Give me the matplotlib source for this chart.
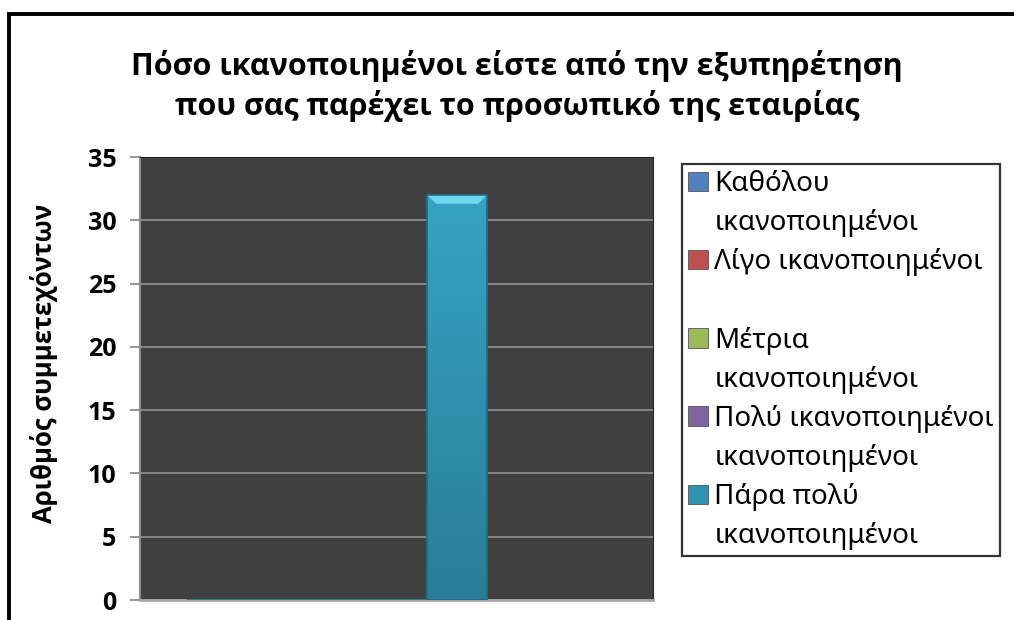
import matplotlib
matplotlib.use('Agg')
import matplotlib.pyplot as plt
from matplotlib.patches import Patch, Rectangle
from matplotlib.colors import LinearSegmentedColormap
import numpy as np

# data
series = ["Καθόλου\nικανοποιημένοι", "Λίγο ικανοποιημένοι\n ",
          "Μέτρια\nικανοποιημένοι", "Πολύ ικανοποιημένοι\nικανοποιημένοι",
          "Πάρα πολύ\nικανοποιημένοι"]
values = [0, 0, 0, 0, 32]
colors = ["#4F81BD", "#C0504D", "#9BBB59", "#8064A2", "#2E93B3"]
yticks = [0, 5, 10, 15, 20, 25, 30, 35]

plt.rcParams['font.family'] = ['Noto Sans', 'DejaVu Sans']
bold_fams = ['Open Sans', 'Liberation Sans', 'DejaVu Sans']

fig = plt.figure(figsize=(10.14, 6.2), dpi=100)
ax = fig.add_axes([140/1014, 20/620, 513/1014, 443/620])
ax.set_facecolor("#404040")

w = 0.2
for i, (v, c) in enumerate(zip(values, colors)):
    x = (i - 2) * w
    bars = ax.bar(x, v, width=w, color=c, edgecolor="#1d6c84", linewidth=1.2, zorder=3)
    if v > 0:
        b = bars[0]
        grad = np.linspace(0, 1, 256).reshape(-1, 1)
        cm = LinearSegmentedColormap.from_list("g", ["#2a7d96", "#36a3c3"])
        im = ax.imshow(grad, cmap=cm, aspect='auto', origin='lower',
                       extent=[x - w/2, x + w/2, 0, v], zorder=3.5)
        im.set_clip_path(b)
        # bevel on top
        ax.add_patch(plt.Polygon([[x - w/2, v], [x + w/2, v], [x + w/2 - 0.03, v - 0.7],
                                  [x - w/2 + 0.03, v - 0.7]], closed=True,
                                 facecolor="#6fd6f0", edgecolor="none", zorder=4))
        ax.add_patch(Rectangle((x - w/2, 0), w, v, fill=False, edgecolor="#1d6c84",
                               linewidth=1.2, zorder=4.5))

ax.set_xlim(-0.657, 1.053)
ax.set_ylim(0, 35)
ax.tick_params(axis='y', length=7, color="#8c8c8c", width=1.3, pad=10,
               labelsize=18, labelfontfamily='Open Sans')
ax.set_yticks(yticks)
ax.set_xticks([])
ax.yaxis.grid(True, color="#8c8c8c", linewidth=1.3, zorder=1)
ax.set_axisbelow(True)
for s in ['top', 'right']:
    ax.spines[s].set_color("#262626")
ax.spines['left'].set_color("#8c8c8c")
ax.spines['bottom'].set_color("#a6a6a6")
ax.spines['left'].set_linewidth(1.5)
ax.spines['bottom'].set_linewidth(2)

fig.text(44/1014, 1 - 363/620, "Αριθμός συμμετεχόντων", rotation=90,
         ha='center', va='center', fontsize=18.5, fontweight='bold', family=bold_fams)

fig.text(517/1014, 1 - 86/620,
         "Πόσο ικανοποιημένοι είστε από την εξυπηρέτηση\nπου σας παρέχει το προσωπικό της εταιρίας",
         ha='center', va='center', fontsize=22, fontweight='bold', linespacing=1.3,
         family=bold_fams)

# legend: one row per text line, marker on the first line
handles, labels = [], []
for name, c in zip(series, colors):
    first, second = name.split("\n")
    handles.append(Patch(facecolor=c, edgecolor="#555555", linewidth=0.6))
    labels.append(first)
    handles.append(Patch(facecolor='none', edgecolor='none'))
    labels.append(second)
leg = fig.legend(handles, labels, loc='upper left',
                 bbox_to_anchor=(682/1014, 1 - 164/620), bbox_transform=fig.transFigure,
                 fontsize=20, frameon=True, fancybox=False, handlelength=0.7,
                 handleheight=0.7, handletextpad=0.25, labelspacing=0.4,
                 borderpad=0.22, borderaxespad=0)
leg.get_frame().set_edgecolor("black")
leg.get_frame().set_linewidth(1.6)

fig.add_artist(Rectangle((9/1014, -0.1), 1.2, 1.1 - 14/620, transform=fig.transFigure,
                         fill=False, edgecolor="black", linewidth=2.8, clip_on=False))

fig.canvas.draw()
for t in ax.get_yticklabels():
    t.set_fontweight('bold')

plt.savefig("out.png", dpi=100)
plt.close()
